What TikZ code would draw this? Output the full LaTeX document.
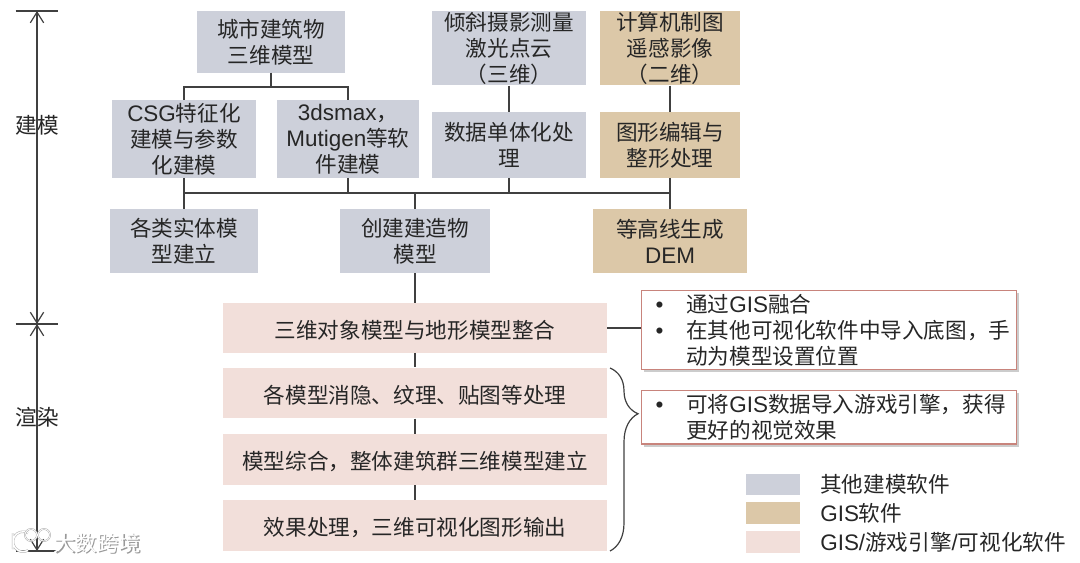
\documentclass[tikz,border=0pt]{standalone}
\usepackage{fontspec}
\setmainfont{Noto Sans CJK SC}
\newfontfamily\latin[Scale=1.04]{Liberation Sans}
\usepackage{xcolor}
\usetikzlibrary{arrows.meta, positioning, shadows, decorations.pathreplacing}
\definecolor{softgray}{HTML}{CDD0DA}
\definecolor{softtan}{HTML}{DCC8A8}
\definecolor{softpink}{HTML}{F2DFDA}
\definecolor{edgered}{HTML}{C8847C}
\definecolor{inkline}{HTML}{404040}
\newcommand{\bul}{\makebox[23pt][l]{\latin\textbullet}}
\newcommand{\nobul}{\hspace*{23pt}}

\begin{document}
\begin{tikzpicture}[x=0.75pt, y=-0.75pt,
  base/.style={rectangle, text=black!85, font=\fontsize{16.2}{19.5}\selectfont, align=center, inner sep=0pt},
  boxed/.style={base, execute at begin node={\rule{0pt}{16.5pt}}},
  graybox/.style={boxed, fill=softgray},
  tanbox/.style={boxed, fill=softtan},
  pinkbox/.style={boxed, fill=softpink, minimum width=288pt},
  note/.style={base, draw=edgered, line width=0.9pt, fill=white, align=left, anchor=north west,
               text width=260pt, drop shadow={shadow xshift=2pt, shadow yshift=-2pt, opacity=0.4}},
  link/.style={draw=inkline, line width=0.9pt},
  span/.style={draw=inkline, line width=0.9pt, {Straight Barb[length=8pt,width=10pt]}-{Straight Barb[length=8pt,width=10pt]}},
  swatch/.style={rectangle, minimum width=40.5pt, minimum height=16pt, inner sep=0pt},
  legendtext/.style={base, anchor=west}
]
  \useasboundingbox (0,0) rectangle (1080,562);

  % Upper boxes
  \node[graybox, minimum width=111pt, minimum height=46pt] (city) at (271,42) {城市建筑物\\三维模型};
  \node[graybox, minimum width=108pt, minimum height=58pt] (csg) at (184,139) {{\latin CSG}特征化\\建模与参数\\化建模};
  \node[graybox, minimum width=107pt, minimum height=58pt] (max) at (348,139) {{\latin 3dsmax}，\\{\latin Mutigen}等软\\件建模};
  \node[graybox, minimum width=115pt, minimum height=56pt] (scan) at (509,48) {倾斜摄影测量\\激光点云\\（三维）};
  \node[graybox, minimum width=115pt, minimum height=49pt] (split) at (509,145) {数据单体化处\\理};
  \node[tanbox, minimum width=105pt, minimum height=56pt] (draft) at (670,48) {计算机制图\\遥感影像\\（二维）};
  \node[tanbox, minimum width=105pt, minimum height=49pt] (edit) at (670,145) {图形编辑与\\整形处理};

  % Middle row
  \node[graybox, minimum width=111pt, minimum height=48pt] (solid) at (184,241) {各类实体模\\型建立};
  \node[graybox, minimum width=112pt, minimum height=48pt] (build) at (415,241) {创建建造物\\模型};
  \node[tanbox, minimum width=115pt, minimum height=48pt] (dem) at (670,241) {等高线生成\\{\latin DEM}};

  % Rendering steps
  \node[pinkbox, minimum height=37pt] (merge) at (415,328) {三维对象模型与地形模型整合};
  \node[pinkbox, minimum height=38pt] (hide) at (415,393) {各模型消隐、纹理、贴图等处理};
  \node[pinkbox, minimum height=38pt] (whole) at (415,459.5) {模型综合，整体建筑群三维模型建立};
  \node[pinkbox, minimum height=38pt] (output) at (415,525.5) {效果处理，三维可视化图形输出};

  % Notes
  \node[note, minimum height=59pt, inner xsep=10.5pt] (note1) at (641,290)
    {\bul 通过{\latin GIS}融合\\\bul 在其他可视化软件中导入底图，手\\\nobul 动为模型设置位置};
  \node[note, minimum height=40pt, inner xsep=10.5pt] (note2) at (641,390)
    {\bul 可将{\latin GIS}数据导入游戏引擎，获得\\\nobul 更好的视觉效果};

  % Links
  \coordinate (bus) at (415,193);
  \draw[link] (city.south) -- ++(0,14) -| (csg.north);
  \draw[link] (city.south) -- ++(0,14) -| (max.north);
  \draw[link] (scan.south) -- (split.north);
  \draw[link] (draft.south) -- (edit.north);
  \draw[link] (csg.south) |- (bus);
  \draw[link] (max.south) |- (bus);
  \draw[link] (split.south) |- (bus);
  \draw[link] (edit.south) |- (bus);
  \draw[link] (bus) -- (build.north);
  \draw[link] (bus) -| (solid.north);
  \draw[link] (bus) -| (dem.north);
  \draw[link] (build.south) -- (merge.north);
  \draw[link] (merge.south) -- (hide.north);
  \draw[link] (hide.south) -- (whole.north);
  \draw[link] (whole.south) -- (output.north);
  \draw[link] (merge.east) -- (merge.east -| note1.west);

  % Brace
  \coordinate (bracetop) at (610,368);
  \coordinate (bracebot) at (610,551);
  \draw[link, decorate, decoration={brace, amplitude=21pt, aspect=0.25}] (bracetop) -- (bracebot);

  % Stage scale
  \coordinate (top) at (37,11);
  \coordinate (mid) at (37,324);
  \coordinate (bot) at (37,551);
  \draw[span] (top) -- (mid);
  \draw[span] (mid) -- (bot);
  \draw[link] ([xshift=-16pt]top) -- ([xshift=16pt]top);
  \draw[link] ([xshift=-16pt]mid) -- ([xshift=16pt]mid);
  \draw[link] ([xshift=-16pt]bot) -- ([xshift=16pt]bot);
  \node[base] (model) at (37,125) {建模};
  \node[base] (render) at (37,417) {渲染};

  % Legend
  \node[swatch, fill=softgray] (key1) at (773,484.5) {};
  \node[swatch, fill=softtan] (key2) at (773,513) {};
  \node[swatch, fill=softpink] (key3) at (773,542) {};
  \node[legendtext] (lab1) at (820,484.5) {其他建模软件};
  \node[legendtext] (lab2) at (820,513) {{\latin GIS}软件};
  \node[legendtext] (lab3) at (820,542) {{\latin GIS/}游戏引擎{\latin /}可视化软件};

  % Watermark
  \node[base, text=black!40] (markshade) at (98.5,544.5) {大数跨境};
  \node[base, text=white] (mark) at (97,543) {大数跨境};
  \draw[black!30, double=white, double distance=1pt, line width=0.4pt] (13,533) -- (13,549) (28,533) arc (60:300:7.5pt);
  \draw[black!40, double=white, double distance=0.6pt, line width=0.3pt] (31,535) circle (4.5pt) (44,535) circle (4.5pt);
\end{tikzpicture}
\end{document}
